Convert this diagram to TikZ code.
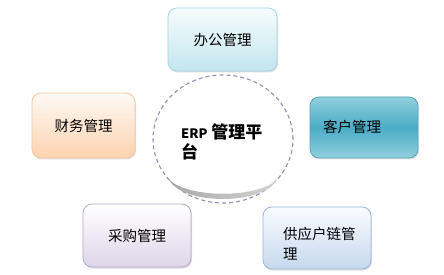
\documentclass[tikz,border=0pt]{standalone}
\usepackage{fontspec}
\setmainfont{Noto Sans CJK SC}
\usetikzlibrary{shadows,shapes.geometric}
\definecolor{offB}{HTML}{A3D6E2}
\definecolor{offT}{HTML}{F7FCFD}
\definecolor{offL}{HTML}{C3E6EE}
\definecolor{cusB}{HTML}{5AA6BB}
\definecolor{cusT}{HTML}{90D0DE}
\definecolor{cusM}{HTML}{4BACC6}
\definecolor{finB}{HTML}{F7C59A}
\definecolor{finT}{HTML}{FFFAF5}
\definecolor{finL}{HTML}{FCD3B0}
\definecolor{purB}{HTML}{B7A8CB}
\definecolor{purT}{HTML}{FFFFFF}
\definecolor{purL}{HTML}{DDD5E8}
\definecolor{supB}{HTML}{9BB6D9}
\definecolor{supT}{HTML}{FAFCFF}
\definecolor{supL}{HTML}{C6D8EE}
\definecolor{ringC}{HTML}{9A8CB8}
\definecolor{shadeL}{HTML}{A8A8A8}
\definecolor{shadeR}{HTML}{D4D4D4}
\tikzset{
  modbox/.style={rectangle, rounded corners=9pt, line width=0.8pt, inner sep=0pt,
    font=\fontsize{14.5}{20}\selectfont,
    drop shadow={shadow xshift=1pt, shadow yshift=-1.5pt, opacity=0.25}},
  modtext/.style={inner sep=0pt, font=\fontsize{14.5}{20}\selectfont, align=left}
}
\begin{document}
\begin{tikzpicture}[x=1pt,y=-1pt]
\useasboundingbox[fill=white] (0,0) rectangle (444,275);
% modules
\node[modbox, draw=offB, top color=offT, bottom color=offL,
  minimum width=109pt, minimum height=63pt] (office) at (222.5,39.5) {办公管理};
\node[modbox, draw=cusB, top color=cusT, bottom color=cusT, middle color=cusM,
  minimum width=108pt, minimum height=61pt] (customer) at (364,127.5) {};
\node[modtext, anchor=west] (customertext) at (323,127) {客户管理};
\node[modbox, draw=finB, top color=finT, bottom color=finL,
  minimum width=103pt, minimum height=65pt] (finance) at (83.5,125.5) {财务管理};
\node[modbox, draw=purB, top color=purT, bottom color=purL,
  minimum width=108pt, minimum height=63pt] (purchase) at (137,235.5) {采购管理};
\node[modbox, draw=supB, top color=supT, bottom color=supL,
  minimum width=108pt, minimum height=62pt] (supply) at (317,238) {};
\node[modtext, anchor=north west] (supplytext) at (283,227) {供应户链管\\理};
% centre
\node[ellipse, draw=ringC, fill=white, line width=1.1pt, dash pattern=on 4pt off 3pt,
  minimum width=140pt, minimum height=128pt, inner sep=0pt] (erp) at (223,139) {};
\shade[left color=shadeL, right color=shadeR] (168,178) .. controls (180,206) and (266,206) .. (278,178)
  .. controls (262,199) and (184,199) .. (168,178);
\node[inner sep=0pt, anchor=west, align=left, font=\bfseries\fontsize{17}{20}\selectfont]
  (erptext) at (181,142) {{\fontsize{13}{20}\selectfont ERP} 管理平\\台};
\end{tikzpicture}
\end{document}
